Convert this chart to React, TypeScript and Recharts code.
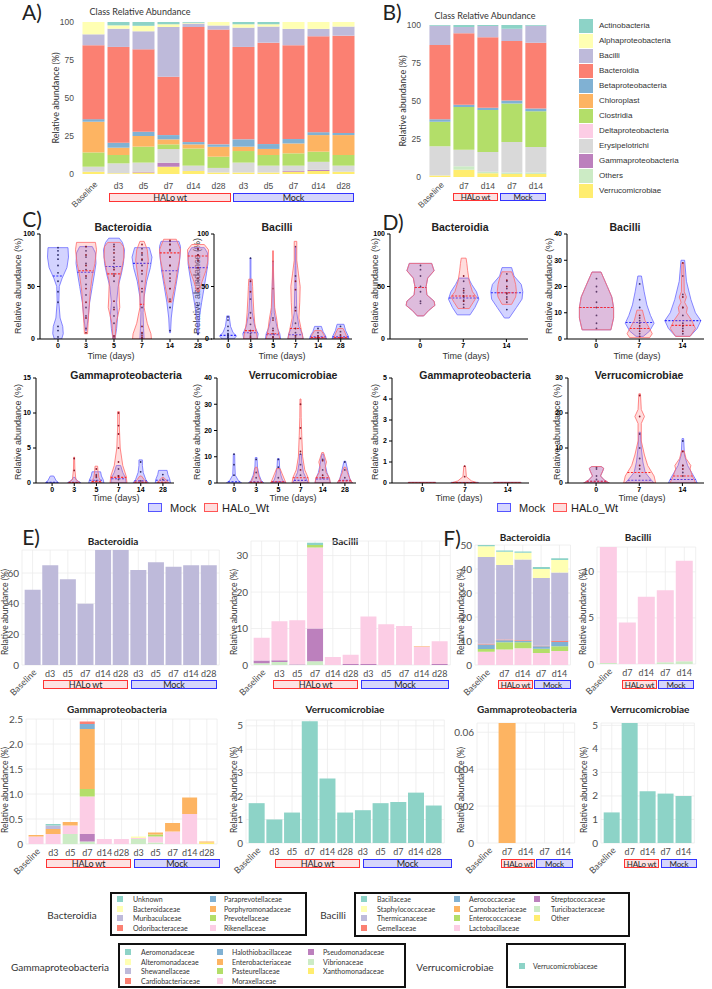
import React from "react";
import { BarChart, Bar, XAxis, YAxis, CartesianGrid, ComposedChart } from "recharts";

const CAL = "Lato, 'Open Sans', sans-serif";
const ARI = "'Liberation Sans', Arial, sans-serif";

// ---------- class level (panels A, B) ----------
const aCats = ["Baseline", "d3", "d5", "d7", "d14", "d28", "d3", "d5", "d7", "d14", "d28"];
const bCats = ["Baseline", "d7", "d14", "d7", "d14"];
const classNames = ["Actinobacteria", "Alphaproteobacteria", "Bacilli", "Bacteroidia", "Betaproteobacteria", "Chloroplast", "Clostridia", "Deltaproteobacteria", "Erysipelotrichi", "Gammaproteobacteria", "Others", "Verrucomicrobiae"];
const classColors = ["#8DD3C7", "#FFFFB3", "#BEBADA", "#FB8072", "#80B1D3", "#FDB462", "#B3DE69", "#FCCDE5", "#D9D9D9", "#BC80BD", "#CCEBC5", "#FFED6F"];

// panel A, one array per class (same order as classNames)
const aActino = [0, 2.2, 2.5, 1.5, 0.5, 0, 1.5, 1.5, 0, 0, 0];
const aAlpha = [8.1, 2.2, 3.6, 1.8, 0.5, 2.3, 2.2, 1.5, 4.5, 4.5, 3];
const aBacilli = [7.2, 12, 11.9, 32.8, 2.3, 2.7, 12.7, 10.6, 10.8, 4.9, 6];
const aBacteroidia = [48.6, 63, 54.2, 38.3, 75.7, 75.5, 60.8, 66.7, 61.7, 63.1, 64];
const aBeta = [1.7, 3.3, 2.8, 2.8, 1.5, 1.6, 4.8, 3.2, 2.9, 1.9, 1.4];
const aChloro = [20.2, 4.8, 7, 3.3, 2.7, 6.5, 2.9, 4, 6.5, 10.9, 13.1];
const aClos = [9.4, 5.5, 10.5, 3.1, 11.3, 7.4, 7.6, 7, 8.1, 6.7, 7];
const aDelta = [0, 0, 0, 0, 0, 0, 0, 0, 0, 0, 0];
const aEry = [3.3, 6.5, 6, 9, 3.5, 3, 6.5, 4.5, 3.5, 5.3, 4];
const aGamma = [0, 0, 0.5, 2.6, 0, 0, 0, 0, 0.5, 0.7, 0];
const aOthers = [0, 0, 0, 0, 0, 0, 0, 0, 0, 0, 0];
const aVerr = [1.5, 0.5, 1, 4.8, 2, 1, 1, 1, 1.5, 2, 1.5];

// panel B
const bActino = [0.5, 1.3, 0.7, 2.5, 0.5];
const bAlpha = [0, 0, 0, 0, 0];
const bBacilli = [12.7, 4.2, 7.4, 8, 11.1];
const bBacteroidia = [48.8, 47, 46.4, 39.2, 43.4];
const bBeta = [1.7, 1.5, 1.5, 1.9, 1.7];
const bChloro = [0, 0, 0, 0, 0];
const bClos = [16.1, 28, 27.5, 25.4, 23.5];
const bDelta = [0, 0, 0, 0, 0];
const bEry = [19.2, 11, 13, 20, 16.8];
const bGamma = [0, 0, 0, 0, 0];
const bOthers = [0, 2.2, 1, 1, 1];
const bVerr = [1, 4.8, 2.5, 2, 2];

// ---------- family level (panels E, F) ----------
const famColors = ["#8DD3C7", "#FFFFB3", "#BEBADA", "#FB8072", "#80B1D3", "#FDB462", "#B3DE69", "#FCCDE5", "#BC80BD", "#CCEBC5", "#FFED6F"];
const bacteroidiaFams = ["Unknown", "Bacteroidaceae", "Muribaculaceae", "Odoribacteraceae", "Paraprevotellaceae", "Porphyromonadaceae", "Prevotellaceae", "Rikenellaceae"];
const bacilliFams = ["Bacillaceae", "Staphylococcaceae", "Thermicanaceae", "Gemellaceae", "Aerococcaceae", "Carnobacteriaceae", "Enterococcaceae", "Lactobacillaceae", "Streptococcaceae", "Turicibacteraceae", "Other"];
const gammaFams = ["Aeromonadaceae", "Alteromonadaceae", "Shewanellaceae", "Cardiobacteriaceae", "Halothiobacillaceae", "Enterobacteriaceae", "Pasteurellaceae", "Moraxellaceae", "Pseudomonadaceae", "Vibrionaceae", "Xanthomonadaceae"];
const verrFams = ["Verrucomicrobiaceae"];

const eBactMuri = [49, 65, 56, 40, 78, 78, 62, 67, 64, 65, 65];

const eBacTuri = [0.5, 0.8, 0.1, 1.0, 0, 0, 0, 0, 0, 0, 0];
const eBacStrep = [0.7, 0.5, 0.1, 9.0, 0, 0.3, 0.3, 0, 0.1, 0, 0.3];
const eBacLacto = [6.3, 10.7, 12.1, 22.2, 2.2, 2.5, 13, 11.2, 10.6, 5.1, 6.2];
const eBacEntero = [0, 0, 0, 0.7, 0, 0, 0, 0, 0, 0, 0];
const eBacBacill = [0, 0, 0, 0.6, 0, 0, 0, 0, 0, 0, 0];
const eBacCarno = [0, 0, 0, 0, 0, 0, 0, 0, 0, 0.1, 0];

const eGamXan = [0, 0, 0, 0, 0, 0, 0, 0, 0, 0, 0.03];
const eGamVib = [0, 0, 0.2, 0.05, 0, 0, 0.1, 0.03, 0, 0, 0];
const eGamPse = [0, 0, 0, 0.15, 0, 0, 0, 0, 0, 0, 0];
const eGamMor = [0.15, 0.2, 0.17, 0.75, 0.1, 0.1, 0.02, 0.12, 0.25, 0.6, 0];
const eGamPas = [0, 0, 0, 0.15, 0, 0, 0, 0.04, 0, 0, 0];
const eGamEnt = [0.03, 0.1, 0.07, 1.2, 0, 0, 0, 0.04, 0.17, 0.33, 0.02];
const eGamHal = [0, 0, 0, 0.1, 0, 0, 0, 0, 0, 0, 0];
const eGamCar = [0, 0, 0, 0.05, 0, 0, 0, 0, 0, 0, 0];
const eGamShe = [0, 0.07, 0, 0, 0, 0, 0, 0, 0, 0, 0];
const eGamAlt = [0, 0, 0, 0, 0, 0, 0.03, 0, 0, 0, 0];
const eGamAer = [0, 0.03, 0, 0, 0, 0, 0, 0, 0, 0, 0];

const eVerr = [1.7, 1.0, 1.3, 5.2, 2.75, 1.3, 1.4, 1.7, 1.75, 2.15, 1.6];

const fBRik = [5.5, 6.5, 7, 5, 5.8];
const fBPrev = [1.2, 3.0, 2.5, 1.8, 2.0];
const fBPara = [1.8, 0.8, 0.5, 1.0, 1.8];
const fBOdo = [0.4, 0.3, 0.3, 0.2, 0.4];
const fBMuri = [36.1, 31.1, 33.7, 28.2, 28.5];
const fBBact = [4.5, 5.5, 2.8, 3.8, 5.2];
const fBUnk = [0.5, 0.5, 0.5, 0.8, 0.8];

const fBacTuri = [0.1, 0, 0, 0.2, 0.3];
const fBacLacto = [12.6, 4.5, 7.3, 7.8, 10.9];

const fGamEnt = [0, 0.065, 0, 0, 0];
const fVerr = [1.3, 5.1, 2.2, 2.1, 2.0];

// ---------- violins (C, D) ----------
type Violin = { p: number[][]; med: number; dots: number[] };
const vl = (p: number[][], med: number, dots: number[] = []): Violin => ({ p, med, dots });

const cTimes = ["0", "3", "5", "7", "14", "28"];
const dTimes = ["0", "7", "14"];

const cBactMock: (Violin | null)[] = [
  vl([[0, 0.35], [5, 0.5], [12, 0.45], [20, 0.2], [35, 0.08], [50, 0.12], [58, 0.4], [68, 0.85], [78, 1], [87, 0.95]], 60, [2, 8, 12, 35, 45, 55, 63, 70, 76, 80, 84, 87]),
  vl([[8, 0.05], [20, 0.2], [35, 0.35], [50, 0.6], [62, 0.8], [72, 0.95], [82, 0.9], [88, 0.6]], 63.6, [10, 22, 30, 42, 52, 58, 66, 72, 78, 84, 88]),
  vl([[0, 0.1], [10, 0.25], [22, 0.35], [35, 0.25], [50, 0.4], [62, 0.7], [72, 0.9], [85, 1], [92, 0.8], [96, 0.5]], 69, [2, 15, 22, 30, 55, 62, 68, 72, 78, 85, 90]),
  vl([[0, 0.2], [10, 0.15], [25, 0.1], [40, 0.2], [55, 0.45], [68, 0.8], [78, 0.95], [87, 0.7]], 72, [1, 5, 30, 45, 55, 62, 70, 75, 80, 86]),
  vl([[6, 0.05], [20, 0.12], [35, 0.3], [50, 0.55], [65, 0.8], [78, 0.95], [88, 1], [93, 0.85]], 65, [8, 30, 38, 48, 55, 62, 70, 78, 84, 90, 93]),
  vl([[4, 0.05], [20, 0.12], [35, 0.35], [50, 0.6], [62, 0.8], [72, 0.95], [82, 0.9], [87, 0.6]], 68, [5, 32, 45, 55, 62, 68, 74, 80, 85]),
];
const cBactHal: (Violin | null)[] = [
  null,
  vl([[5, 0.15], [15, 0.2], [30, 0.3], [45, 0.4], [60, 0.6], [72, 0.85], [85, 1], [92, 0.9]], 65, [6, 20, 35, 48, 60, 70, 80, 88]),
  vl([[0, 0.1], [15, 0.2], [30, 0.55], [40, 0.5], [55, 0.45], [65, 0.7], [78, 0.95], [88, 0.9], [92, 0.6]], 62, [3, 28, 36, 60, 66, 75, 82, 88]),
  vl([[0, 0.9], [5, 0.85], [15, 0.5], [30, 0.2], [45, 0.2], [60, 0.4], [75, 0.6], [85, 0.5], [93, 0.2]], 33, [1, 3, 6, 12, 48, 65, 76, 82, 90]),
  vl([[35, 0.15], [45, 0.35], [55, 0.55], [65, 0.7], [75, 0.9], [85, 1], [95, 0.6]], 82, [36, 48, 58, 70, 78, 85, 90, 94]),
  vl([[45, 0.1], [55, 0.4], [65, 0.75], [75, 0.95], [85, 1], [90, 0.6]], 79, [48, 58, 68, 75, 80, 86]),
];

const cBacMock: (Violin | null)[] = [
  vl([[0, 0.7], [3, 1], [6, 0.6], [12, 0.3], [18, 0.2], [22, 0.15]], 3.5, [1, 2, 3, 4, 5, 8, 12, 18, 21]),
  vl([[0, 0.8], [5, 0.9], [12, 0.5], [25, 0.2], [40, 0.1], [60, 0.05], [77, 0.05]], 6, [1, 3, 5, 8, 14, 25, 38, 77]),
  vl([[0, 0.9], [5, 0.8], [12, 0.45], [25, 0.15], [48, 0.1], [60, 0.05], [74, 0.05]], 4, [1, 2, 5, 10, 20, 48, 74]),
  vl([[0, 0.9], [5, 0.8], [12, 0.4], [25, 0.15], [50, 0.08], [70, 0.05], [88, 0.05]], 4, [1, 3, 6, 15, 30, 60, 88]),
  vl([[0, 1], [3, 0.9], [7, 0.6], [12, 0.4]], 2, [1, 3, 6, 10]),
  vl([[0, 1], [3, 0.9], [8, 0.6], [14, 0.4]], 2, [1, 3, 7, 12]),
];
const cBacHal: (Violin | null)[] = [
  null,
  vl([[0, 0.8], [6, 0.7], [15, 0.5], [25, 0.4], [40, 0.3], [50, 0.25], [57, 0.2]], 8, [2, 8, 20, 45, 55]),
  vl([[0, 0.8], [8, 0.6], [18, 0.45], [30, 0.2], [50, 0.1], [70, 0.05], [84, 0.05]], 5, [2, 8, 18]),
  vl([[0, 0.9], [8, 0.7], [20, 0.4], [35, 0.5], [50, 0.55], [62, 0.35], [75, 0.15], [93, 0.15]], 10, [3, 10, 27, 47, 55]),
  vl([[0, 0.9], [4, 0.7], [8, 0.4]], 1.5, [1, 3]),
  vl([[0, 0.8], [5, 0.6], [10, 0.3]], 1.5, [1, 4]),
];

const cGamMock: (Violin | null)[] = [
  vl([[0, 0.8], [0.3, 0.5], [1, 0.2]], 0.1),
  vl([[0, 0.8], [0.4, 0.3], [0.8, 0.1]], 0.1),
  vl([[0, 0.9], [0.5, 0.8], [1, 0.6], [1.6, 0.5]], 0.4, [0.3, 0.8, 1.2]),
  vl([[0, 0.9], [0.8, 0.8], [1.5, 0.5], [2.5, 0.25]], 0.6, [0.5, 1, 2]),
  vl([[0, 0.9], [0.5, 0.6], [1.5, 0.3], [2.5, 0.2], [3.3, 0.2]], 0.3, [0.3, 1.6, 3]),
  vl([[0, 0.9], [0.6, 0.8], [1.2, 0.6], [1.8, 0.5]], 0.4, [0.5, 1.2]),
];
const cGamHal: (Violin | null)[] = [
  null,
  vl([[0, 0.7], [0.5, 0.2], [2, 0.08], [3.7, 0.05]], 0.05, [1.8, 3.5]),
  vl([[0, 0.6], [0.8, 0.3], [1.6, 0.2], [2.4, 0.15]], 0.2, [1, 2]),
  vl([[0, 1], [1, 0.9], [2.5, 0.5], [5, 0.2], [8, 0.1], [10.2, 0.1]], 0.8, [1, 3, 5, 7, 8.2, 10]),
  vl([[0, 0.8], [0.5, 0.4], [1, 0.1]], 0.1),
  vl([[0, 0.7], [0.4, 0.4], [0.8, 0.1]], 0.1),
];

const cVerMock: (Violin | null)[] = [
  vl([[0, 0.9], [1, 0.5], [3, 0.15], [7, 0.1], [11, 0.08]], 0.5, [3, 7, 11]),
  vl([[0, 0.9], [1, 0.6], [3, 0.35], [6, 0.15], [9.7, 0.1]], 0.5, [2, 4, 9]),
  vl([[0, 0.9], [1, 0.5], [3, 0.3], [6, 0.15], [9.3, 0.1]], 0.5, [2, 6, 9]),
  vl([[0, 0.9], [1.5, 0.7], [4, 0.35], [8, 0.15], [11, 0.1]], 1, [3, 7, 11]),
  vl([[0, 0.9], [1.5, 0.8], [4, 0.5], [7, 0.3], [11, 0.1]], 1.5, [2, 5, 9]),
  vl([[0, 0.9], [1.5, 0.6], [4, 0.4], [8.3, 0.1]], 1, [2, 5, 8]),
];
const cVerHal: (Violin | null)[] = [
  null,
  vl([[0, 0.8], [1, 0.5], [3, 0.25], [6, 0.1]], 0.3),
  vl([[0, 0.9], [1.5, 0.7], [3.5, 0.45], [5.5, 0.2]], 0.5),
  vl([[0, 1], [2, 0.9], [5, 0.5], [10, 0.25], [18, 0.15], [25, 0.08], [32, 0.06]], 2, [5, 12, 17, 21, 30]),
  vl([[0, 0.9], [2, 0.8], [4, 0.4], [6, 0.3], [8, 0.45], [9.5, 0.3], [11.6, 0.1]], 2, [3, 8.5]),
  vl([[0, 0.9], [1.5, 0.6], [3.5, 0.35], [6, 0.1]], 0.8),
];

const dBactMock: (Violin | null)[] = [
  vl([[22, 0.2], [27, 0.5], [32, 0.9], [36, 0.85], [42, 0.4], [50, 0.35], [58, 0.45], [65, 0.85], [72, 0.7]], 49, [34, 36, 45, 50, 60, 66, 70]),
  vl([[23, 0.4], [30, 0.7], [38, 0.95], [45, 0.8], [52, 0.5], [58, 0.3]], 39, [30, 33, 37, 40, 44, 48, 55]),
  vl([[20, 0.15], [30, 0.6], [38, 0.95], [45, 1], [52, 0.9], [60, 0.45], [68, 0.3]], 44, [28, 35, 40, 44, 48, 55, 62]),
];
const dBactHal: (Violin | null)[] = [
  vl([[22, 0.2], [27, 0.5], [32, 0.9], [36, 0.85], [42, 0.4], [50, 0.35], [58, 0.45], [65, 0.85], [72, 0.7]], 49),
  vl([[29, 0.35], [35, 0.6], [40, 0.8], [45, 0.55], [55, 0.35], [65, 0.25], [72, 0.2], [77, 0.15]], 41, [36, 41, 46, 60]),
  vl([[33, 0.3], [40, 0.55], [45, 0.6], [52, 0.55], [58, 0.45], [64, 0.3]], 44, [38, 43, 50, 56]),
];

const dBacMock: (Violin | null)[] = [
  vl([[3.5, 0.8], [8, 0.95], [12, 0.95], [16, 0.85], [20, 0.6], [25.5, 0.25]], 12, [4, 6, 9, 12, 14, 18, 20, 23]),
  vl([[1, 0.2], [3, 0.55], [6, 0.8], [9, 0.6], [13, 0.4], [18, 0.25], [24, 0.1]], 6.3, [2, 4, 6, 7, 8, 12, 15, 21]),
  vl([[1, 0.4], [4, 0.8], [7, 1], [10, 0.7], [15, 0.45], [22, 0.2], [30, 0.1]], 7, [2, 4, 6, 9, 12, 17, 24]),
];
const dBacHal: (Violin | null)[] = [
  vl([[3.5, 0.8], [8, 0.95], [12, 0.95], [16, 0.85], [20, 0.6], [25.5, 0.25]], 12),
  vl([[0.5, 0.55], [2, 0.7], [4, 0.55], [7, 0.3], [11, 0.15]], 4, [1, 3, 5, 9]),
  vl([[1, 0.4], [4, 0.7], [7, 0.5], [10, 0.2], [12, 0.25], [14, 0.1], [16, 0.2], [18, 0.08], [29, 0.05]], 5.2, [3, 5, 12, 16, 29]),
];

const dGamMock: (Violin | null)[] = [
  vl([[0, 0.8], [0.03, 0.8]], 0),
  vl([[0, 0.8], [0.03, 0.8]], 0),
  vl([[0, 0.8], [0.03, 0.8]], 0),
];
const dGamHal: (Violin | null)[] = [
  vl([[0, 0.8], [0.03, 0.8]], 0),
  vl([[0, 0.8], [0.1, 0.4], [0.3, 0.1], [0.8, 0.05]], 0.02, [0.3, 0.8]),
  vl([[0, 0.8], [0.03, 0.8]], 0),
];

const dVerMock: (Violin | null)[] = [
  vl([[0, 0.8], [0.8, 0.5], [2, 0.25], [3.5, 0.4], [4.2, 0.45], [4.7, 0.3]], 0.5, [1, 2, 4, 4.5]),
  vl([[0, 0.9], [1, 0.7], [3, 0.35], [6, 0.2], [10, 0.1], [14.5, 0.05]], 0.8, [2, 4, 7, 10, 14]),
  vl([[0, 0.9], [1, 0.8], [3, 0.55], [5, 0.3], [8, 0.1], [12.7, 0.05]], 1, [2, 3, 5, 12]),
];
const dVerHal: (Violin | null)[] = [
  vl([[0, 0.8], [0.8, 0.5], [2, 0.25], [3.5, 0.4], [4.2, 0.45], [4.7, 0.3]], 0.5),
  vl([[0, 1], [2, 0.9], [5, 0.5], [8, 0.3], [12, 0.1], [17, 0.1], [19, 0.3], [21, 0.1], [25.5, 0.05]], 3, [5, 19, 25]),
  vl([[0, 0.8], [2, 0.6], [4, 0.45], [5, 0.5], [7, 0.2], [9.2, 0.08]], 2, [4, 5, 9]),
];

// ---------- helpers ----------
type Series = { name: string; color: string; values: number[] };
const ser = (names: string[], colors: string[], vals: number[][]): Series[] =>
  names.map((n, i) => ({ name: n, color: colors[i], values: vals[i] }));

function Txt(p: { x: number; y: number; s: string; size?: number; bold?: boolean; font?: string; color?: string; rot?: boolean; start?: boolean }) {
  return (
    <div
      style={{
        position: "absolute", left: p.x, top: p.y,
        transform: `translate(${p.start ? "0" : "-50%"},-50%)${p.rot ? " rotate(-90deg)" : ""}`,
        fontSize: p.size ?? 9, fontWeight: p.bold ? 700 : 400, fontFamily: p.font ?? CAL,
        color: p.color ?? "#222", whiteSpace: "nowrap", lineHeight: 1,
      }}
    >
      {p.s}
    </div>
  );
}

function GroupBox(p: { x1: number; x2: number; y1: number; y2: number; s: string; red?: boolean; size?: number }) {
  return (
    <div
      style={{
        position: "absolute", left: p.x1, top: p.y1, width: p.x2 - p.x1, height: p.y2 - p.y1, boxSizing: "border-box",
        border: `1.5px solid ${p.red ? "#f33" : "#33f"}`, background: p.red ? "#fde2e2" : "#d6d6fb",
        fontFamily: CAL, fontSize: p.size ?? 9, color: "#222", display: "flex", alignItems: "center", justifyContent: "center",
        lineHeight: 1, whiteSpace: "nowrap", overflow: "visible", letterSpacing: -0.2,
      }}
    >
      {p.s}
    </div>
  );
}

function CatTick(props: any) {
  const { x, y, payload, labels, fs, font, dy } = props;
  const t = labels[Number(payload.value)];
  if (t === "Baseline") {
    const ax = x + 4.5, ay = y + dy - 4;
    return (
      <text x={ax} y={ay} transform={`rotate(-45 ${ax} ${ay})`} textAnchor="end" fontSize={fs} fontFamily={font} fill="#4d4d4d">
        {t}
      </text>
    );
  }
  return (
    <text x={x} y={y + dy} textAnchor="middle" fontSize={fs} fontFamily={font} fill="#4d4d4d">
      {t}
    </text>
  );
}

function StackPanel(p: {
  bx0: number; bx1: number; top: number; bottom: number; labels: string[]; series: Series[];
  domain: [number, number]; ticks: number[]; barFrac: number; padFrac: number; grid?: boolean;
  fmt?: (v: number) => string; yFont: number; xFont: number; font: string; tickGap: number; xDy: number;
}) {
  const n = p.labels.length;
  const u = (p.bx1 - p.bx0) / (n - 1 + p.barFrac);
  const pad = u * p.padFrac;
  const x0 = p.bx0 - (u * (1 - p.barFrac)) / 2 - pad;
  const w = n * u + 2 * pad;
  const h = p.bottom - p.top;
  const YW = 40, MT = 6, MR = 4, XH = 50;
  const data = p.labels.map((_, i) => {
    const r: Record<string, number | string> = { id: String(i) };
    p.series.forEach((s) => { r[s.name] = s.values[i]; });
    return r;
  });
  return (
    <div style={{ position: "absolute", left: x0 - YW, top: p.top - MT }}>
      <BarChart
        width={w + YW + MR} height={h + MT + XH} data={data}
        margin={{ top: MT, right: MR, left: 0, bottom: 0 }}
        barCategoryGap={`${((1 - p.barFrac) / 2) * 100}%`}
      >
        {p.grid && <CartesianGrid stroke="#ececec" strokeWidth={0.8} />}
        <XAxis
          dataKey="id" height={XH} interval={0} axisLine={false} tickLine={false} tickSize={0} tickMargin={0}
          padding={{ left: pad, right: pad }}
          tick={(t: any) => <CatTick {...t} labels={p.labels} fs={p.xFont} font={p.font} dy={p.xDy} />}
        />
        <YAxis
          width={YW} type="number" domain={p.domain} ticks={p.ticks} allowDataOverflow interval={0}
          axisLine={false} tickLine={false} tickSize={0} tickMargin={p.tickGap} tickFormatter={p.fmt}
          tick={{ fontSize: p.yFont, fill: "#4d4d4d", fontFamily: p.font }}
        />
        {p.series.map((s) => (
          <Bar key={s.name} dataKey={s.name} stackId="s" fill={s.color} isAnimationActive={false} />
        ))}
      </BarChart>
    </div>
  );
}

function widthAt(v: Violin, val: number) {
  const p = v.p;
  if (val <= p[0][0]) return p[0][1];
  for (let i = 1; i < p.length; i++) {
    if (val <= p[i][0]) {
      const f = (val - p[i - 1][0]) / (p[i][0] - p[i - 1][0] || 1);
      return p[i - 1][1] + f * (p[i][1] - p[i - 1][1]);
    }
  }
  return p[p.length - 1][1];
}

function ViolinShape(props: any) {
  const { x, y, width, height, payload, maxHalf } = props;
  const cx = x + width / 2;
  const [lo, hi] = payload.range;
  const top = Math.min(y, y + height);
  const bot = Math.max(y, y + height);
  const py = (v: number) => bot - ((v - lo) / (hi - lo)) * (bot - top);
  const draw = (v: Violin | null, stroke: string, fill: string, dash: string, dot: string) => {
    if (!v) return null;
    const right = v.p.map(([val, w]) => `${cx + w * maxHalf},${py(val)}`);
    const left = [...v.p].reverse().map(([val, w]) => `${cx - w * maxHalf},${py(val)}`);
    const mw = widthAt(v, v.med) * maxHalf;
    return (
      <g>
        <path d={`M${right.join("L")}L${left.join("L")}Z`} fill={fill} stroke={stroke} strokeWidth={0.8} />
        <line x1={cx - mw} x2={cx + mw} y1={py(v.med)} y2={py(v.med)} stroke={dash} strokeWidth={1.1} strokeDasharray="2 1.5" />
        {v.dots.map((d, i) => (
          <circle key={i} cx={cx} cy={py(d)} r={0.9} fill={dot} />
        ))}
      </g>
    );
  };
  return (
    <g>
      {draw(payload.mock, "#6b6bff", "rgba(120,120,255,0.33)", "#2b2bff", "#2a2a66")}
      {draw(payload.hal, "#ff6b6b", "rgba(255,120,120,0.25)", "#ff2b2b", "#8a1a2a")}
    </g>
  );
}

function ViolinPanel(p: {
  x0: number; x1: number; top: number; bottom: number; pad: number; times: string[];
  mock: (Violin | null)[]; hal: (Violin | null)[]; domain: [number, number]; ticks: number[]; maxHalf: number;
}) {
  const YW = 30, MT = 6, MR = 4, XH = 20;
  const w = p.x1 - p.x0;
  const h = p.bottom - p.top;
  const data = p.times.map((t, i) => {
    const vs = [p.mock[i], p.hal[i]].filter(Boolean) as Violin[];
    const lo = Math.min(...vs.map((v) => v.p[0][0]));
    const hi = Math.max(...vs.map((v) => v.p[v.p.length - 1][0]));
    return { t, range: [lo, hi], mock: p.mock[i], hal: p.hal[i] };
  });
  const tk = { fontSize: 7, fontWeight: 700, fill: "#000", fontFamily: ARI };
  return (
    <div style={{ position: "absolute", left: p.x0 - YW, top: p.top - MT }}>
      <ComposedChart width={w + YW + MR} height={h + MT + XH} data={data} margin={{ top: MT, right: MR, left: 0, bottom: 0 }}>
        <XAxis dataKey="t" height={XH} interval={0} padding={{ left: p.pad, right: 0 }} stroke="#000" tickSize={3} tickMargin={1} tick={tk} />
        <YAxis width={YW} type="number" domain={p.domain} ticks={p.ticks} allowDataOverflow interval={0} stroke="#000" tickSize={3} tickMargin={2} tick={tk} />
        <Bar dataKey="range" barSize={2} isAnimationActive={false} shape={(s: any) => <ViolinShape {...s} maxHalf={p.maxHalf} />} />
      </ComposedChart>
    </div>
  );
}

function LegendBox(p: { x1: number; x2: number; y1: number; y2: number; label: string; lx: number; ly: number; names: string[]; colors: string[]; cols: number[][]; rows: number[] }) {
  return (
    <>
      <Txt x={p.lx} y={p.ly} s={p.label} size={10} color="#333" />
      <div style={{ position: "absolute", left: p.x1, top: p.y1, width: p.x2 - p.x1, height: p.y2 - p.y1, border: "2px solid #111", boxSizing: "border-box" }} />
      {p.names.map((n, i) => {
        const c = Math.floor(i / p.rows.length);
        const r = i % p.rows.length;
        return (
          <React.Fragment key={n}>
            <div style={{ position: "absolute", left: p.cols[c][0] - 3, top: p.rows[r] - 3, width: 6, height: 6, background: p.colors[i] }} />
            <Txt x={p.cols[c][1]} y={p.rows[r]} s={n} size={7} color="#333" start />
          </React.Fragment>
        );
      })}
    </>
  );
}

function MockLegend({ x, y }: { x: number; y: number }) {
  return (
    <>
      <div style={{ position: "absolute", left: x, top: y - 5, width: 14, height: 9, border: "1.2px solid #5555ff", background: "rgba(120,120,255,0.3)", boxSizing: "border-box" }} />
      <Txt x={x + 22} y={y} s="Mock" size={11} font={ARI} start />
      <div style={{ position: "absolute", left: x + 56, top: y - 5, width: 14, height: 9, border: "1.2px solid #ff5555", background: "rgba(255,120,120,0.25)", boxSizing: "border-box" }} />
      <Txt x={x + 74} y={y} s="HALo_Wt" size={11} font={ARI} start />
    </>
  );
}

export default function App() {
  const aSeries = ser(classNames, classColors, [aActino, aAlpha, aBacilli, aBacteroidia, aBeta, aChloro, aClos, aDelta, aEry, aGamma, aOthers, aVerr]).reverse();
  const bSeries = ser(classNames, classColors, [bActino, bAlpha, bBacilli, bBacteroidia, bBeta, bChloro, bClos, bDelta, bEry, bGamma, bOthers, bVerr]).reverse();
  const eBactSeries: Series[] = [{ name: "Muribaculaceae", color: famColors[2], values: eBactMuri }];
  const eBacSeries: Series[] = [
    { name: "Turicibacteraceae", color: famColors[9], values: eBacTuri },
    { name: "Streptococcaceae", color: famColors[8], values: eBacStrep },
    { name: "Lactobacillaceae", color: famColors[7], values: eBacLacto },
    { name: "Enterococcaceae", color: famColors[6], values: eBacEntero },
    { name: "Carnobacteriaceae", color: famColors[5], values: eBacCarno },
    { name: "Bacillaceae", color: famColors[0], values: eBacBacill },
  ];
  const eGamSeries = ser(gammaFams, famColors, [eGamAer, eGamAlt, eGamShe, eGamCar, eGamHal, eGamEnt, eGamPas, eGamMor, eGamPse, eGamVib, eGamXan]).reverse();
  const eVerSeries: Series[] = [{ name: "Verrucomicrobiaceae", color: famColors[0], values: eVerr }];
  const fBactSeries: Series[] = [
    { name: "Rikenellaceae", color: famColors[7], values: fBRik },
    { name: "Prevotellaceae", color: famColors[6], values: fBPrev },
    { name: "Paraprevotellaceae", color: famColors[4], values: fBPara },
    { name: "Odoribacteraceae", color: famColors[3], values: fBOdo },
    { name: "Muribaculaceae", color: famColors[2], values: fBMuri },
    { name: "Bacteroidaceae", color: famColors[1], values: fBBact },
    { name: "Unknown", color: famColors[0], values: fBUnk },
  ];
  const fBacSeries: Series[] = [
    { name: "Turicibacteraceae", color: famColors[9], values: fBacTuri },
    { name: "Lactobacillaceae", color: famColors[7], values: fBacLacto },
  ];
  const fGamSeries: Series[] = [{ name: "Enterobacteriaceae", color: famColors[5], values: fGamEnt }];
  const fVerSeries: Series[] = [{ name: "Verrucomicrobiaceae", color: famColors[0], values: fVerr }];

  const g1 = (v: number) => (v === 0 ? "0" : v.toFixed(1));
  const g2 = (v: number) => (v === 0 ? "0" : v.toFixed(2));
  const ef = { barFrac: 0.9, padFrac: 0.1, grid: true, yFont: 10, xFont: 9, font: CAL, tickGap: 3, xDy: 12 };

  return (
    <div style={{ position: "absolute", left: 0, top: 0, width: 712, height: 989, background: "#fff", overflow: "hidden" }}>
      {/* ---- A ---- */}
      <Txt x={32} y={11} s="A)" size={21} />
      <Txt x={140} y={11} s="Class Relative Abundance" size={9} color="#333" />
      <Txt x={55} y={98} s="Relative abundance (%)" size={9} color="#333" rot />
      <StackPanel bx0={82} bx1={354} top={22} bottom={174} labels={aCats} series={aSeries} domain={[0, 100]} ticks={[0, 25, 50, 75, 100]}
        barFrac={0.88} padFrac={0} yFont={8.5} xFont={8.5} font={ARI} tickGap={7} xDy={15} />
      <GroupBox x1={109} x2={231} y1={193} y2={202} s="HALo wt" red />
      <GroupBox x1={233} x2={354} y1={193} y2={202} s="Mock" />

      {/* ---- B ---- */}
      <Txt x={392} y={11} s="B)" size={21} />
      <Txt x={485} y={15} s="Class Relative Abundance" size={9} color="#333" />
      <Txt x={402} y={101} s="Relative abundance (%)" size={9} color="#333" rot />
      <StackPanel bx0={429} bx1={546} top={25} bottom={177} labels={bCats} series={bSeries} domain={[0, 100]} ticks={[0, 25, 50, 75, 100]}
        barFrac={0.88} padFrac={0} yFont={8.5} xFont={8.5} font={ARI} tickGap={7} xDy={12.5} />
      <GroupBox x1={453} x2={498} y1={193} y2={201} s="HALo wt" red size={8} />
      <GroupBox x1={500} x2={546} y1={193} y2={201} s="Mock" size={8} />
      {classNames.map((n, i) => (
        <React.Fragment key={n}>
          <div style={{ position: "absolute", left: 579, top: 19 + i * 15, width: 14, height: 14, background: classColors[i] }} />
          <Txt x={599} y={26 + i * 15} s={n} size={8} font={ARI} color="#333" start />
        </React.Fragment>
      ))}

      {/* ---- C ---- */}
      <Txt x={32} y={218} s="C)" size={21} />
      <Txt x={123} y={227} s="Bacteroidia" size={10.5} bold font={ARI} />
      <Txt x={277} y={227} s="Bacilli" size={10.5} bold font={ARI} />
      <Txt x={18} y={286} s="Relative abundance (%)" size={9} font={ARI} color="#333" rot />
      <Txt x={197} y={286} s="Relative abundance (%)" size={9} font={ARI} color="#333" rot />
      <ViolinPanel x0={40} x1={212} top={234} bottom={339} pad={4} times={cTimes} mock={cBactMock} hal={cBactHal} domain={[0, 100]} ticks={[0, 50, 100]} maxHalf={10.5} />
      <ViolinPanel x0={214} x1={352} top={234} bottom={339} pad={3} times={cTimes} mock={cBacMock} hal={cBacHal} domain={[0, 100]} ticks={[0, 50, 100]} maxHalf={8.5} />
      <Txt x={111} y={356} s="Time (days)" size={9} font={ARI} color="#333" />
      <Txt x={282} y={356} s="Time (days)" size={9} font={ARI} color="#333" />

      <Txt x={126} y={375} s="Gammaproteobacteria" size={10.5} bold font={ARI} />
      <Txt x={293} y={375} s="Verrucomicrobiae" size={10.5} bold font={ARI} />
      <Txt x={18} y={432} s="Relative abundance (%)" size={9} font={ARI} color="#333" rot />
      <Txt x={197} y={432} s="Relative abundance (%)" size={9} font={ARI} color="#333" rot />
      <ViolinPanel x0={36} x1={174} top={378} bottom={483} pad={5} times={cTimes} mock={cGamMock} hal={cGamHal} domain={[0, 15]} ticks={[0, 5, 10, 15]} maxHalf={8.5} />
      <ViolinPanel x0={217} x1={356} top={378} bottom={483} pad={6} times={cTimes} mock={cVerMock} hal={cVerHal} domain={[0, 40]} ticks={[0, 10, 20, 30, 40]} maxHalf={8.5} />
      <Txt x={116} y={498} s="Time (days)" size={9} font={ARI} color="#333" />
      <Txt x={293} y={498} s="Time (days)" size={9} font={ARI} color="#333" />
      <MockLegend x={148} y={508} />

      {/* ---- D ---- */}
      <Txt x={393} y={221} s="D)" size={21} />
      <Txt x={460} y={227} s="Bacteroidia" size={10.5} bold font={ARI} />
      <Txt x={625} y={227} s="Bacilli" size={10.5} bold font={ARI} />
      <Txt x={375} y={286} s="Relative abundance (%)" size={9} font={ARI} color="#333" rot />
      <Txt x={549} y={286} s="Relative abundance (%)" size={9} font={ARI} color="#333" rot />
      <ViolinPanel x0={390} x1={528} top={234} bottom={339} pad={8.5} times={dTimes} mock={dBactMock} hal={dBactHal} domain={[0, 100]} ticks={[0, 50, 100]} maxHalf={16} />
      <ViolinPanel x0={567} x1={704} top={234} bottom={339} pad={7.5} times={dTimes} mock={dBacMock} hal={dBacHal} domain={[0, 40]} ticks={[0, 10, 20, 30, 40]} maxHalf={18} />
      <Txt x={466} y={356} s="Time (days)" size={9} font={ARI} color="#333" />
      <Txt x={637} y={356} s="Time (days)" size={9} font={ARI} color="#333" />

      <Txt x={475} y={375} s="Gammaproteobacteria" size={10.5} bold font={ARI} />
      <Txt x={639} y={375} s="Verrucomicrobiae" size={10.5} bold font={ARI} />
      <Txt x={375} y={432} s="Relative abundance (%)" size={9} font={ARI} color="#333" rot />
      <Txt x={557} y={432} s="Relative abundance (%)" size={9} font={ARI} color="#333" rot />
      <ViolinPanel x0={392} x1={529} top={378} bottom={483} pad={9} times={dTimes} mock={dGamMock} hal={dGamHal} domain={[0, 5]} ticks={[0, 1, 2, 3, 4, 5]} maxHalf={17} />
      <ViolinPanel x0={568} x1={704} top={378} bottom={483} pad={6.5} times={dTimes} mock={dVerMock} hal={dVerHal} domain={[0, 30]} ticks={[0, 10, 20, 30]} maxHalf={16} />
      <Txt x={459} y={498} s="Time (days)" size={9} font={ARI} color="#333" />
      <Txt x={642} y={498} s="Time (days)" size={9} font={ARI} color="#333" />
      <MockLegend x={497} y={508} />

      {/* ---- E ---- */}
      <Txt x={31} y={536} s="E)" size={21} />
      <Txt x={113} y={541} s="Bacteroidia" size={10} bold />
      <Txt x={345} y={541} s="Bacilli" size={10} bold />
      <Txt x={5} y={612} s="Relative abundance (%)" size={8.5} color="#333" rot />
      <Txt x={234} y={612} s="Relative abundance (%)" size={8.5} color="#333" rot />
      <StackPanel bx0={25} bx1={217} top={550} bottom={665} labels={aCats} series={eBactSeries} domain={[0, 75]} ticks={[0, 20, 40, 60]} {...ef} />
      <StackPanel bx0={254} bx1={448} top={541} bottom={665} labels={aCats} series={eBacSeries} domain={[0, 34]} ticks={[0, 10, 20, 30]} {...ef} />
      <GroupBox x1={43} x2={128} y1={680} y2={689} s="HALo wt" red />
      <GroupBox x1={131} x2={217} y1={680} y2={689} s="Mock" />
      <GroupBox x1={273} x2={358} y1={680} y2={689} s="HALo wt" red />
      <GroupBox x1={361} x2={449} y1={680} y2={689} s="Mock" />

      <Txt x={117} y={709} s="Gammaproteobacteria" size={10} bold />
      <Txt x={345} y={709} s="Verrucomicrobiae" size={10} bold />
      <Txt x={5} y={790} s="Relative abundance (%)" size={8.5} color="#333" rot />
      <Txt x={234} y={790} s="Relative abundance (%)" size={8.5} color="#333" rot />
      <StackPanel bx0={29} bx1={215} top={719} bottom={844} labels={aCats} series={eGamSeries} domain={[0, 2.5]} ticks={[0, 0.5, 1, 1.5, 2, 2.5]} fmt={g1} {...ef} />
      <StackPanel bx0={249} bx1={442} top={720} bottom={843} labels={aCats} series={eVerSeries} domain={[0, 5.25]} ticks={[0, 1, 2, 3, 4, 5]} {...ef} />
      <GroupBox x1={46} x2={131} y1={859} y2={868} s="HALo wt" red />
      <GroupBox x1={134} x2={220} y1={859} y2={868} s="Mock" />
      <GroupBox x1={275} x2={360} y1={859} y2={868} s="HALo wt" red />
      <GroupBox x1={363} x2={452} y1={859} y2={868} s="Mock" />

      {/* ---- F ---- */}
      <Txt x={452} y={537} s="F)" size={21} />
      <Txt x={525} y={537} s="Bacteroidia" size={10} bold />
      <Txt x={638} y={537} s="Bacilli" size={10} bold />
      <Txt x={461} y={612} s="Relative abundance (%)" size={8.5} color="#333" rot />
      <Txt x={583} y={612} s="Relative abundance (%)" size={8.5} color="#333" rot />
      <StackPanel bx0={478} bx1={568} top={545} bottom={665} labels={bCats} series={fBactSeries} domain={[0, 50]} ticks={[0, 10, 20, 30, 40, 50]} {...ef} />
      <StackPanel bx0={600} bx1={693} top={547} bottom={664} labels={bCats} series={fBacSeries} domain={[0, 12.7]} ticks={[0, 5, 10]} {...ef} />
      <GroupBox x1={498} x2={533} y1={680} y2={689} s="HALo wt" red size={8} />
      <GroupBox x1={534} x2={571} y1={680} y2={689} s="Mock" size={8} />
      <GroupBox x1={622} x2={657} y1={680} y2={689} s="HALo wt" red size={8} />
      <GroupBox x1={658} x2={694} y1={680} y2={689} s="Mock" size={8} />

      <Txt x={527} y={709} s="Gammaproteobacteria" size={10} bold />
      <Txt x={650} y={709} s="Verrucomicrobiae" size={10} bold />
      <Txt x={461} y={790} s="Relative abundance (%)" size={8.5} color="#333" rot />
      <Txt x={584} y={790} s="Relative abundance (%)" size={8.5} color="#333" rot />
      <StackPanel bx0={480} bx1={572} top={723} bottom={843} labels={bCats} series={fGamSeries} domain={[0, 0.065]} ticks={[0, 0.02, 0.04, 0.06]} fmt={g2} {...ef} />
      <StackPanel bx0={604} bx1={692} top={723} bottom={843} labels={bCats} series={fVerSeries} domain={[0, 5.1]} ticks={[0, 1, 2, 3, 4, 5]} {...ef} />
      <GroupBox x1={501} x2={535} y1={859} y2={868} s="HALo wt" red size={8} />
      <GroupBox x1={536} x2={573} y1={859} y2={868} s="Mock" size={8} />
      <GroupBox x1={624} x2={659} y1={859} y2={868} s="HALo wt" red size={8} />
      <GroupBox x1={661} x2={697} y1={859} y2={868} s="Mock" size={8} />

      {/* ---- legends ---- */}
      <LegendBox x1={110} x2={307} y1={892} y2={936} label="Bacteroidia" lx={72} ly={915} names={bacteroidiaFams} colors={famColors}
        cols={[[120, 133], [213, 224]]} rows={[899, 909, 918, 928]} />
      <LegendBox x1={354} x2={630} y1={892} y2={937} label="Bacilli" lx={333} ly={915} names={bacilliFams} colors={famColors}
        cols={[[364, 377], [457, 469], [537, 551]]} rows={[899, 909, 918, 928]} />
      <LegendBox x1={118} x2={406} y1={943} y2={988} label="Gammaproteobacteria" lx={60} ly={967} names={gammaFams} colors={famColors}
        cols={[[128, 141], [220, 232], [311, 323]]} rows={[952, 962, 971, 981]} />
      <LegendBox x1={506} x2={626} y1={943} y2={988} label="Verrucomicrobiae" lx={455} ly={967} names={verrFams} colors={famColors}
        cols={[[522, 533]]} rows={[966]} />
    </div>
  );
}
